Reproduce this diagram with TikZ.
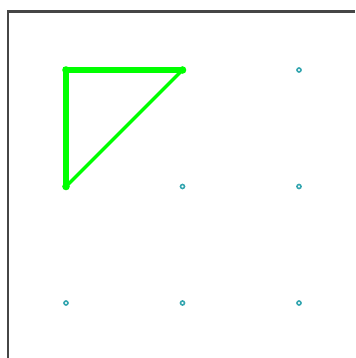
\documentclass[tikz,border=0pt]{standalone}
\definecolor{gridteal}{RGB}{50,165,175}
\definecolor{framegray}{RGB}{70,70,70}

\begin{document}
\begin{tikzpicture}[x=0.5pt,y=-0.5pt,
    gridpt/.style={draw=gridteal, line width=0.8pt},
    edge/.style={draw=green, line width=2.7pt, line cap=round},
    diag/.style={draw=green, line width=1.7pt}]
    \useasboundingbox (0,0) rectangle (355,358);
    \draw[framegray, line width=1.1pt] (8,358) -- (8,11.5) -- (355,11.5);
    \foreach \i in {0,1,2}
      \foreach \j in {0,1,2}
        \coordinate (p\i\j) at ({66+116.5*\i},{70+116.5*\j});
    \foreach \i/\j in {2/0,1/1,2/1,0/2,1/2,2/2}
      \draw[gridpt] (p\i\j) circle (2);
    \draw[edge] (p01) -- (p00) -- (p10); \draw[diag] (p10) -- (p01);
    \foreach \v in {p00,p10,p01}
      \fill[green] (\v) circle (3.8);
  \end{tikzpicture}
\end{document}
